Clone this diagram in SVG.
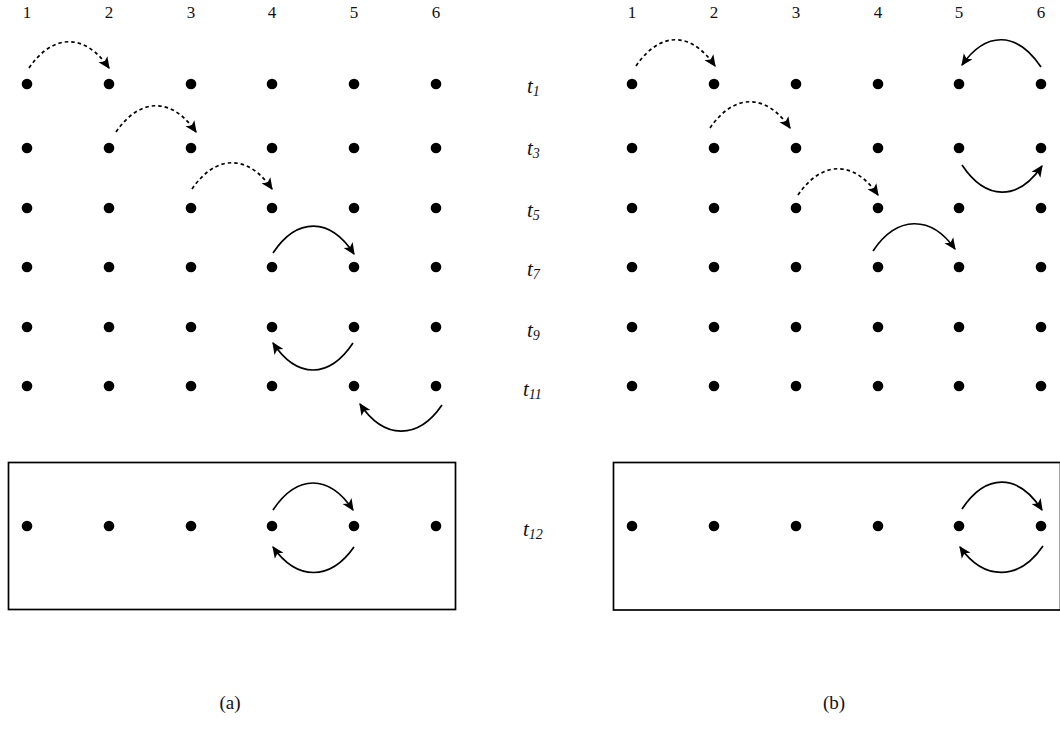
<svg xmlns="http://www.w3.org/2000/svg" width="1060" height="731" viewBox="0 0 1060 731">
<style>
.dot{fill:#000}
.num{font-family:"Liberation Serif",serif;font-size:17px;text-anchor:middle;fill:#111}
.tl{font-family:"Liberation Serif",serif;font-style:italic;font-size:21px;fill:#111}
.sub{font-size:14px}
.cap{font-family:"Liberation Serif",serif;font-size:19px;text-anchor:middle;fill:#111}
.box{fill:none;stroke:#000;stroke-width:1.7}
.arc{fill:none;stroke:#000;stroke-width:1.7;marker-end:url(#ah)}
.dash{stroke-dasharray:3.5 3}
</style>
<defs>
<marker id="ah" viewBox="0 0 10 10" refX="9" refY="5" markerWidth="7" markerHeight="7" markerUnits="strokeWidth" orient="auto">
<path d="M0,0.5 L10,5 L0,9.5 L2.5,5 Z" fill="#000"/>
</marker>
</defs>

<g id="labels-a">
<text class="num" x="27" y="18">1</text><text class="num" x="109" y="18">2</text><text class="num" x="191" y="18">3</text><text class="num" x="272" y="18">4</text><text class="num" x="354" y="18">5</text><text class="num" x="436" y="18">6</text>
</g>
<g id="labels-b">
<text class="num" x="632" y="18">1</text><text class="num" x="714" y="18">2</text><text class="num" x="796" y="18">3</text><text class="num" x="878" y="18">4</text><text class="num" x="959" y="18">5</text><text class="num" x="1041" y="18">6</text>
</g>

<g id="time-labels">
<text class="tl" x="527" y="93">t<tspan class="sub" dy="3">1</tspan></text>
<text class="tl" x="527" y="155">t<tspan class="sub" dy="3">3</tspan></text>
<text class="tl" x="527" y="217">t<tspan class="sub" dy="3">5</tspan></text>
<text class="tl" x="527" y="276">t<tspan class="sub" dy="3">7</tspan></text>
<text class="tl" x="527" y="337">t<tspan class="sub" dy="3">9</tspan></text>
<text class="tl" x="523" y="396">t<tspan class="sub" dy="3">11</tspan></text>
<text class="tl" x="523" y="536">t<tspan class="sub" dy="3">12</tspan></text>
</g>

<g id="panel-a">
<rect id="box-a" class="box" x="8.5" y="462.5" width="447" height="147"/>
<g id="dots-a">
<circle class="dot" cx="27" cy="84" r="5.3"/><circle class="dot" cx="109" cy="84" r="5.3"/><circle class="dot" cx="191" cy="84" r="5.3"/><circle class="dot" cx="272" cy="84" r="5.3"/><circle class="dot" cx="354" cy="84" r="5.3"/><circle class="dot" cx="436" cy="84" r="5.3"/>
<circle class="dot" cx="27" cy="148" r="5.3"/><circle class="dot" cx="109" cy="148" r="5.3"/><circle class="dot" cx="191" cy="148" r="5.3"/><circle class="dot" cx="272" cy="148" r="5.3"/><circle class="dot" cx="354" cy="148" r="5.3"/><circle class="dot" cx="436" cy="148" r="5.3"/>
<circle class="dot" cx="27" cy="208" r="5.3"/><circle class="dot" cx="109" cy="208" r="5.3"/><circle class="dot" cx="191" cy="208" r="5.3"/><circle class="dot" cx="272" cy="208" r="5.3"/><circle class="dot" cx="354" cy="208" r="5.3"/><circle class="dot" cx="436" cy="208" r="5.3"/>
<circle class="dot" cx="27" cy="267" r="5.3"/><circle class="dot" cx="109" cy="267" r="5.3"/><circle class="dot" cx="191" cy="267" r="5.3"/><circle class="dot" cx="272" cy="267" r="5.3"/><circle class="dot" cx="354" cy="267" r="5.3"/><circle class="dot" cx="436" cy="267" r="5.3"/>
<circle class="dot" cx="27" cy="327" r="5.3"/><circle class="dot" cx="109" cy="327" r="5.3"/><circle class="dot" cx="191" cy="327" r="5.3"/><circle class="dot" cx="272" cy="327" r="5.3"/><circle class="dot" cx="354" cy="327" r="5.3"/><circle class="dot" cx="436" cy="327" r="5.3"/>
<circle class="dot" cx="27" cy="386" r="5.3"/><circle class="dot" cx="109" cy="386" r="5.3"/><circle class="dot" cx="191" cy="386" r="5.3"/><circle class="dot" cx="272" cy="386" r="5.3"/><circle class="dot" cx="354" cy="386" r="5.3"/><circle class="dot" cx="436" cy="386" r="5.3"/>
<circle class="dot" cx="27" cy="526" r="5.3"/><circle class="dot" cx="109" cy="526" r="5.3"/><circle class="dot" cx="191" cy="526" r="5.3"/><circle class="dot" cx="272" cy="526" r="5.3"/><circle class="dot" cx="354" cy="526" r="5.3"/><circle class="dot" cx="436" cy="526" r="5.3"/>
</g>
</g>

<g id="panel-b">
<rect id="box-b" class="box" x="613.5" y="462.5" width="447" height="147.5"/>
<g id="dots-b">
<circle class="dot" cx="632" cy="84" r="5.3"/><circle class="dot" cx="714" cy="84" r="5.3"/><circle class="dot" cx="796" cy="84" r="5.3"/><circle class="dot" cx="878" cy="84" r="5.3"/><circle class="dot" cx="959" cy="84" r="5.3"/><circle class="dot" cx="1041" cy="84" r="5.3"/>
<circle class="dot" cx="632" cy="148" r="5.3"/><circle class="dot" cx="714" cy="148" r="5.3"/><circle class="dot" cx="796" cy="148" r="5.3"/><circle class="dot" cx="878" cy="148" r="5.3"/><circle class="dot" cx="959" cy="148" r="5.3"/><circle class="dot" cx="1041" cy="148" r="5.3"/>
<circle class="dot" cx="632" cy="208" r="5.3"/><circle class="dot" cx="714" cy="208" r="5.3"/><circle class="dot" cx="796" cy="208" r="5.3"/><circle class="dot" cx="878" cy="208" r="5.3"/><circle class="dot" cx="959" cy="208" r="5.3"/><circle class="dot" cx="1041" cy="208" r="5.3"/>
<circle class="dot" cx="632" cy="267" r="5.3"/><circle class="dot" cx="714" cy="267" r="5.3"/><circle class="dot" cx="796" cy="267" r="5.3"/><circle class="dot" cx="878" cy="267" r="5.3"/><circle class="dot" cx="959" cy="267" r="5.3"/><circle class="dot" cx="1041" cy="267" r="5.3"/>
<circle class="dot" cx="632" cy="327" r="5.3"/><circle class="dot" cx="714" cy="327" r="5.3"/><circle class="dot" cx="796" cy="327" r="5.3"/><circle class="dot" cx="878" cy="327" r="5.3"/><circle class="dot" cx="959" cy="327" r="5.3"/><circle class="dot" cx="1041" cy="327" r="5.3"/>
<circle class="dot" cx="632" cy="386" r="5.3"/><circle class="dot" cx="714" cy="386" r="5.3"/><circle class="dot" cx="796" cy="386" r="5.3"/><circle class="dot" cx="878" cy="386" r="5.3"/><circle class="dot" cx="959" cy="386" r="5.3"/><circle class="dot" cx="1041" cy="386" r="5.3"/>
<circle class="dot" cx="632" cy="526" r="5.3"/><circle class="dot" cx="714" cy="526" r="5.3"/><circle class="dot" cx="796" cy="526" r="5.3"/><circle class="dot" cx="878" cy="526" r="5.3"/><circle class="dot" cx="959" cy="526" r="5.3"/><circle class="dot" cx="1041" cy="526" r="5.3"/>
</g>
</g>

<g id="connectors">
<path class="arc dash" d="M29,68 C53,33 85,33 109,68"/>
<path class="arc dash" d="M116,132 C140,97 172,97 196,132"/>
<path class="arc dash" d="M192,189 C216,154 248,154 272,189"/>
<path class="arc" d="M273,253 C297,217 330,217 354,254"/>
<path class="arc" d="M353,343 C329,379 297,379 273,343"/>
<path class="arc" d="M442,405 C418,440 384,440 360,404"/>
<path class="arc" d="M273,510 C297,474 329,474 353,510"/>
<path class="arc" d="M354,547 C330,581 297,581 273,547"/>

<path class="arc dash" d="M636,66 C660,31 691,31 715,66"/>
<path class="arc dash" d="M710,128 C734,93 766,93 790,128"/>
<path class="arc dash" d="M798,195 C822,160 854,160 878,195"/>
<path class="arc" d="M1041,67 C1017,31 986,31 962,65"/>
<path class="arc" d="M962,165 C986,201 1018,201 1042,166"/>
<path class="arc" d="M873,251 C897,215 931,215 955,249"/>
<path class="arc" d="M962,509 C986,473 1018,473 1042,510"/>
<path class="arc" d="M1043,546 C1019,581 984,581 960,547"/>
</g>

<g id="captions">
<text class="cap" x="230" y="709">(a)</text>
<text class="cap" x="834" y="709">(b)</text>
</g>
</svg>
